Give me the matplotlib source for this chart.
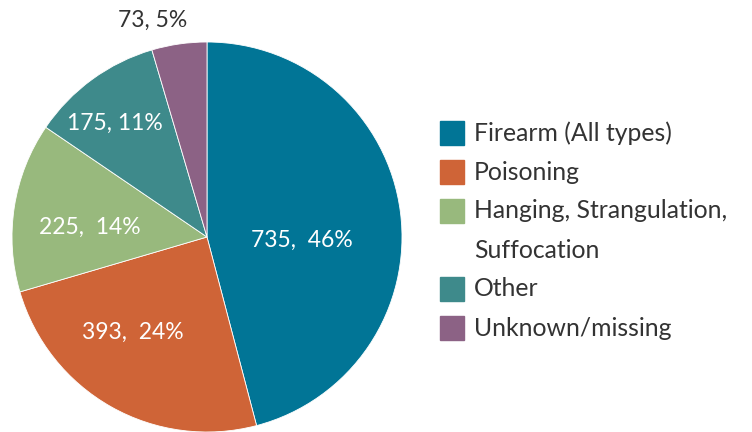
import matplotlib
matplotlib.use("Agg")
import matplotlib.pyplot as plt
from matplotlib.patches import Rectangle

plt.rcParams['font.family'] = ['Lato', 'DejaVu Sans']

categories = ["Firearm (All types)", "Poisoning", "Hanging, Strangulation,\nSuffocation",
              "Other", "Unknown/missing"]
counts = [735, 393, 225, 175, 73]
pct_labels = ["735,  46%", "393,  24%", "225,  14%", "175, 11%", "73, 5%"]
colors = ["#017596", "#CF6437", "#98B97D", "#3E8A8B", "#8C6285"]

# label centres in units of the radius
label_pos = [(0.487, -0.015), (-0.38, -0.49), (-0.60, 0.05), (-0.47, 0.585), (-0.28, 1.113)]
label_col = ["white", "white", "white", "white", "#333333"]

fig = plt.figure(figsize=(7.52, 4.32), dpi=100)
ax = fig.add_axes([12 / 752, 0 / 432, 390 / 752, 390 / 432])

wedges, _ = ax.pie(counts, colors=colors, startangle=90, counterclock=False,
                   wedgeprops=dict(linewidth=0.6, edgecolor="white"))
ax.set_xlim(-1, 1)
ax.set_ylim(-1, 1)
ax.set_aspect("equal")

for (x, y), txt, c in zip(label_pos, pct_labels, label_col):
    ax.text(x, y, txt, ha="center", va="center", fontsize=16.5, color=c)

# legend drawn by hand so the box lines up with the first text line
y = 1 - 133 / 432
for cat, col in zip(categories, colors):
    fig.patches.append(Rectangle((440 / 752, y - 12 / 432), 24 / 752, 24 / 432,
                                 transform=fig.transFigure, color=col))
    for ln in cat.split("\n"):
        fig.text(474 / 752, y, ln, fontsize=17.8, color="#333333", va="center",
                 ha="left")
        y -= 39 / 432

fig.savefig("out.png", dpi=100)
